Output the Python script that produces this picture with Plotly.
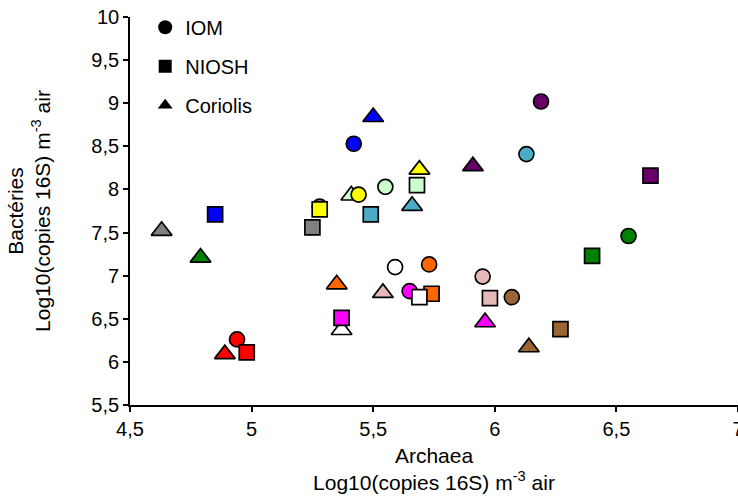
import plotly.graph_objects as go

# Colour of each sample (same order in every array below)
sample_colors = ["#660066", "#4BACC6", "#0000FF", "#FFFF00", "#CCFFCC", "#808080", "#008000",
                 "#FF6600", "#FFFFFF", "#FF00FF", "#E6B9B8", "#996633", "#FF0000"]

# IOM (circles)
iom_x = [6.19, 6.13, 5.42, 5.44, 5.55, 5.28, 6.55, 5.73, 5.59, 5.65, 5.95, 6.07, 4.94]
iom_y = [9.02, 8.41, 8.53, 7.94, 8.03, 7.80, 7.46, 7.13, 7.10, 6.82, 6.99, 6.75, 6.26]
# NIOSH (squares)
niosh_x = [6.64, 5.49, 4.85, 5.28, 5.68, 5.25, 6.40, 5.74, 5.69, 5.37, 5.98, 6.27, 4.98]
niosh_y = [8.16, 7.71, 7.71, 7.77, 8.05, 7.56, 7.23, 6.79, 6.75, 6.51, 6.74, 6.38, 6.11]
# Coriolis (triangles)
cor_x = [5.91, 5.66, 5.50, 5.69, 5.41, 4.63, 4.79, 5.35, 5.37, 5.96, 5.54, 6.14, 4.89]
cor_y = [8.27, 7.81, 8.84, 8.23, 7.93, 7.52, 7.21, 6.90, 6.37, 6.46, 6.80, 6.17, 6.09]

x_tickvals = [4.5, 5, 5.5, 6, 6.5, 7]
x_ticktext = ["4,5", "5", "5,5", "6", "6,5", "7"]
y_tickvals = [5.5, 6, 6.5, 7, 7.5, 8, 8.5, 9, 9.5, 10]
y_ticktext = ["5,5", "6", "6,5", "7", "7,5", "8", "8,5", "9", "9,5", "10"]

FONT = "Liberation Sans, Arial, sans-serif"
line = dict(color="black", width=1.7)

fig = go.Figure()
# data (draw order: triangles, circles, squares)
fig.add_trace(go.Scatter(x=cor_x, y=cor_y, mode="markers", showlegend=False,
                         marker=dict(symbol="triangle-up", size=18, color=sample_colors, line=line)))
fig.add_trace(go.Scatter(x=iom_x, y=iom_y, mode="markers", showlegend=False,
                         marker=dict(symbol="circle", size=15, color=sample_colors, line=line)))
fig.add_trace(go.Scatter(x=niosh_x, y=niosh_y, mode="markers", showlegend=False,
                         marker=dict(symbol="square", size=15, color=sample_colors, line=line)))

# legend entries (black symbols)
for name, sym, sz in [("IOM", "circle", 14), ("NIOSH", "square", 13), ("Coriolis", "triangle-up", 13)]:
    fig.add_trace(go.Scatter(x=[None], y=[None], mode="markers", name=name, legendgroup=name,
                             marker=dict(symbol=sym, size=sz, color="black", line=dict(width=0))))

fig.update_layout(
    width=738, height=498,
    margin=dict(l=130, r=0, t=17, b=93),
    paper_bgcolor="white", plot_bgcolor="white",
    font=dict(family=FONT, size=20, color="black"),
    showlegend=True,
    legend=dict(x=0.025, y=1.024, xanchor="left", yanchor="top", bgcolor="rgba(0,0,0,0)",
                traceorder="grouped", tracegroupgap=10, font=dict(size=20),
                itemwidth=30, borderwidth=0),
    xaxis=dict(range=[4.5, 7], tickvals=x_tickvals, ticktext=x_ticktext,
               ticks="outside", ticklen=5, tickwidth=1.5, tickcolor="black",
               showline=True, linecolor="black", linewidth=1.7,
               showgrid=False, zeroline=False, automargin=False, ticklabeloverflow="allow",
               title=dict(text="Archaea<br>Log10(copies 16S) m<sup>-3</sup> air", standoff=9,
                          font=dict(size=21))),
    yaxis=dict(range=[5.5, 10], tickvals=y_tickvals, ticktext=y_ticktext,
               ticks="outside", ticklen=5, tickwidth=1.5, tickcolor="black",
               showline=True, linecolor="black", linewidth=1.7,
               showgrid=False, zeroline=False, automargin=False,
               title=dict(text="Bactéries<br>Log10(copies 16S) m<sup>-3</sup> air", standoff=35,
                          font=dict(size=21))),
)

fig.write_html("out.html", config={"displayModeBar": False},
               post_script="document.body.style.margin='0';document.body.style.overflow='hidden';")
